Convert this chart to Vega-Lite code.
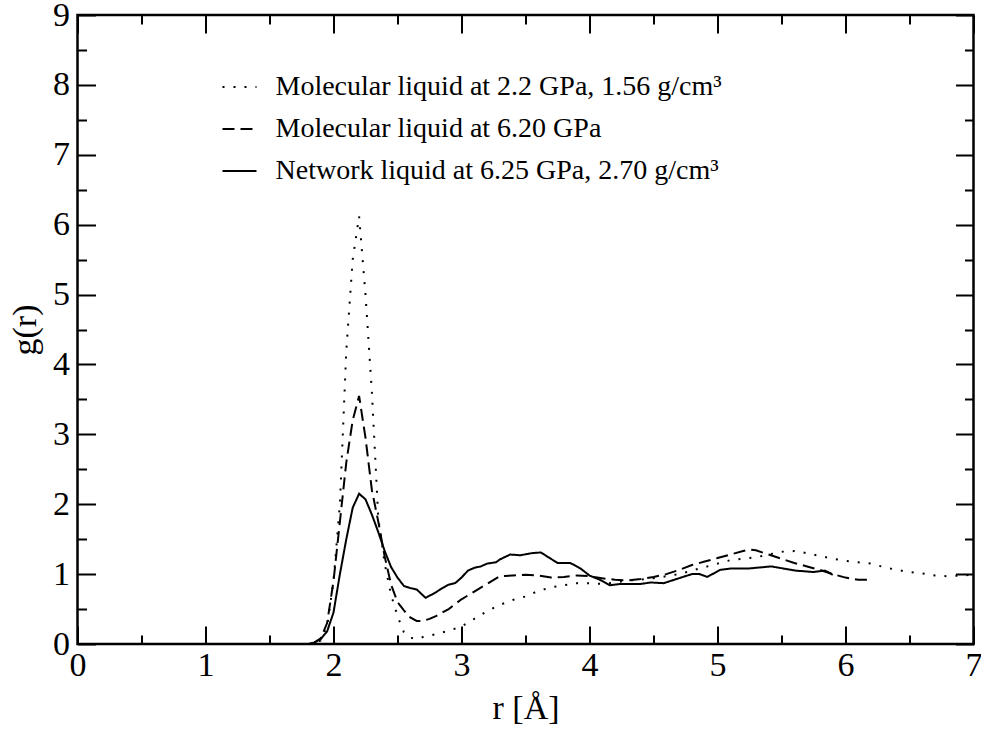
{
  "$schema": "https://vega.github.io/schema/vega-lite/v6.json",
  "width": 896,
  "height": 629,
  "autosize": {"type": "none"},
  "padding": {"left": 77.5, "top": 15, "right": 7.5, "bottom": 87},
  "background": "white",
  "config": {
    "view": {"stroke": "black", "strokeWidth": 2.5},
    "font": "Liberation Serif"
  },
  "datasets": {
    "curves": [
      {"s": "Molecular liquid at 2.2 GPa, 1.56 g/cm³", "r": 0, "g": 0},
      {"s": "Molecular liquid at 2.2 GPa, 1.56 g/cm³", "r": 1.8, "g": 0},
      {"s": "Molecular liquid at 2.2 GPa, 1.56 g/cm³", "r": 1.85, "g": 0.01},
      {"s": "Molecular liquid at 2.2 GPa, 1.56 g/cm³", "r": 1.9, "g": 0.05},
      {"s": "Molecular liquid at 2.2 GPa, 1.56 g/cm³", "r": 1.95, "g": 0.25},
      {"s": "Molecular liquid at 2.2 GPa, 1.56 g/cm³", "r": 2.0, "g": 0.9},
      {"s": "Molecular liquid at 2.2 GPa, 1.56 g/cm³", "r": 2.05, "g": 2.0},
      {"s": "Molecular liquid at 2.2 GPa, 1.56 g/cm³", "r": 2.1, "g": 4.2},
      {"s": "Molecular liquid at 2.2 GPa, 1.56 g/cm³", "r": 2.15, "g": 5.5},
      {"s": "Molecular liquid at 2.2 GPa, 1.56 g/cm³", "r": 2.2, "g": 6.12},
      {"s": "Molecular liquid at 2.2 GPa, 1.56 g/cm³", "r": 2.25, "g": 5.0},
      {"s": "Molecular liquid at 2.2 GPa, 1.56 g/cm³", "r": 2.3, "g": 3.6},
      {"s": "Molecular liquid at 2.2 GPa, 1.56 g/cm³", "r": 2.35, "g": 1.8},
      {"s": "Molecular liquid at 2.2 GPa, 1.56 g/cm³", "r": 2.4, "g": 1.15},
      {"s": "Molecular liquid at 2.2 GPa, 1.56 g/cm³", "r": 2.45, "g": 0.7},
      {"s": "Molecular liquid at 2.2 GPa, 1.56 g/cm³", "r": 2.5, "g": 0.4},
      {"s": "Molecular liquid at 2.2 GPa, 1.56 g/cm³", "r": 2.55, "g": 0.17},
      {"s": "Molecular liquid at 2.2 GPa, 1.56 g/cm³", "r": 2.6, "g": 0.09},
      {"s": "Molecular liquid at 2.2 GPa, 1.56 g/cm³", "r": 2.65, "g": 0.07},
      {"s": "Molecular liquid at 2.2 GPa, 1.56 g/cm³", "r": 2.7, "g": 0.1},
      {"s": "Molecular liquid at 2.2 GPa, 1.56 g/cm³", "r": 2.8, "g": 0.14},
      {"s": "Molecular liquid at 2.2 GPa, 1.56 g/cm³", "r": 2.9, "g": 0.19},
      {"s": "Molecular liquid at 2.2 GPa, 1.56 g/cm³", "r": 3.0, "g": 0.25},
      {"s": "Molecular liquid at 2.2 GPa, 1.56 g/cm³", "r": 3.1, "g": 0.36},
      {"s": "Molecular liquid at 2.2 GPa, 1.56 g/cm³", "r": 3.2, "g": 0.47},
      {"s": "Molecular liquid at 2.2 GPa, 1.56 g/cm³", "r": 3.3, "g": 0.56},
      {"s": "Molecular liquid at 2.2 GPa, 1.56 g/cm³", "r": 3.4, "g": 0.63},
      {"s": "Molecular liquid at 2.2 GPa, 1.56 g/cm³", "r": 3.5, "g": 0.68},
      {"s": "Molecular liquid at 2.2 GPa, 1.56 g/cm³", "r": 3.6, "g": 0.76},
      {"s": "Molecular liquid at 2.2 GPa, 1.56 g/cm³", "r": 3.7, "g": 0.81},
      {"s": "Molecular liquid at 2.2 GPa, 1.56 g/cm³", "r": 3.8, "g": 0.84},
      {"s": "Molecular liquid at 2.2 GPa, 1.56 g/cm³", "r": 3.9, "g": 0.87},
      {"s": "Molecular liquid at 2.2 GPa, 1.56 g/cm³", "r": 4.0, "g": 0.87},
      {"s": "Molecular liquid at 2.2 GPa, 1.56 g/cm³", "r": 4.1, "g": 0.86},
      {"s": "Molecular liquid at 2.2 GPa, 1.56 g/cm³", "r": 4.2, "g": 0.88},
      {"s": "Molecular liquid at 2.2 GPa, 1.56 g/cm³", "r": 4.3, "g": 0.91},
      {"s": "Molecular liquid at 2.2 GPa, 1.56 g/cm³", "r": 4.4, "g": 0.92},
      {"s": "Molecular liquid at 2.2 GPa, 1.56 g/cm³", "r": 4.5, "g": 0.94},
      {"s": "Molecular liquid at 2.2 GPa, 1.56 g/cm³", "r": 4.6, "g": 0.97},
      {"s": "Molecular liquid at 2.2 GPa, 1.56 g/cm³", "r": 4.7, "g": 1.0},
      {"s": "Molecular liquid at 2.2 GPa, 1.56 g/cm³", "r": 4.8, "g": 1.05},
      {"s": "Molecular liquid at 2.2 GPa, 1.56 g/cm³", "r": 4.9, "g": 1.1},
      {"s": "Molecular liquid at 2.2 GPa, 1.56 g/cm³", "r": 5.0, "g": 1.15},
      {"s": "Molecular liquid at 2.2 GPa, 1.56 g/cm³", "r": 5.1, "g": 1.2},
      {"s": "Molecular liquid at 2.2 GPa, 1.56 g/cm³", "r": 5.2, "g": 1.22},
      {"s": "Molecular liquid at 2.2 GPa, 1.56 g/cm³", "r": 5.3, "g": 1.24},
      {"s": "Molecular liquid at 2.2 GPa, 1.56 g/cm³", "r": 5.4, "g": 1.28},
      {"s": "Molecular liquid at 2.2 GPa, 1.56 g/cm³", "r": 5.5, "g": 1.32},
      {"s": "Molecular liquid at 2.2 GPa, 1.56 g/cm³", "r": 5.6, "g": 1.33},
      {"s": "Molecular liquid at 2.2 GPa, 1.56 g/cm³", "r": 5.7, "g": 1.3},
      {"s": "Molecular liquid at 2.2 GPa, 1.56 g/cm³", "r": 5.8, "g": 1.26},
      {"s": "Molecular liquid at 2.2 GPa, 1.56 g/cm³", "r": 5.9, "g": 1.22},
      {"s": "Molecular liquid at 2.2 GPa, 1.56 g/cm³", "r": 6.0, "g": 1.19},
      {"s": "Molecular liquid at 2.2 GPa, 1.56 g/cm³", "r": 6.1, "g": 1.17},
      {"s": "Molecular liquid at 2.2 GPa, 1.56 g/cm³", "r": 6.2, "g": 1.15},
      {"s": "Molecular liquid at 2.2 GPa, 1.56 g/cm³", "r": 6.3, "g": 1.1},
      {"s": "Molecular liquid at 2.2 GPa, 1.56 g/cm³", "r": 6.4, "g": 1.06},
      {"s": "Molecular liquid at 2.2 GPa, 1.56 g/cm³", "r": 6.5, "g": 1.03},
      {"s": "Molecular liquid at 2.2 GPa, 1.56 g/cm³", "r": 6.6, "g": 1.01},
      {"s": "Molecular liquid at 2.2 GPa, 1.56 g/cm³", "r": 6.7, "g": 0.98},
      {"s": "Molecular liquid at 2.2 GPa, 1.56 g/cm³", "r": 6.8, "g": 0.97},
      {"s": "Molecular liquid at 2.2 GPa, 1.56 g/cm³", "r": 6.9, "g": 0.98},
      {"s": "Molecular liquid at 2.2 GPa, 1.56 g/cm³", "r": 7.0, "g": 0.99},

      {"s": "Molecular liquid at 6.20 GPa", "r": 0, "g": 0},
      {"s": "Molecular liquid at 6.20 GPa", "r": 1.8, "g": 0},
      {"s": "Molecular liquid at 6.20 GPa", "r": 1.85, "g": 0.02},
      {"s": "Molecular liquid at 6.20 GPa", "r": 1.9, "g": 0.08},
      {"s": "Molecular liquid at 6.20 GPa", "r": 1.95, "g": 0.3},
      {"s": "Molecular liquid at 6.20 GPa", "r": 2.0, "g": 0.9},
      {"s": "Molecular liquid at 6.20 GPa", "r": 2.05, "g": 1.75},
      {"s": "Molecular liquid at 6.20 GPa", "r": 2.1, "g": 2.6},
      {"s": "Molecular liquid at 6.20 GPa", "r": 2.15, "g": 3.2},
      {"s": "Molecular liquid at 6.20 GPa", "r": 2.2, "g": 3.55},
      {"s": "Molecular liquid at 6.20 GPa", "r": 2.25, "g": 2.95},
      {"s": "Molecular liquid at 6.20 GPa", "r": 2.3, "g": 2.2},
      {"s": "Molecular liquid at 6.20 GPa", "r": 2.35, "g": 1.75},
      {"s": "Molecular liquid at 6.20 GPa", "r": 2.4, "g": 1.25},
      {"s": "Molecular liquid at 6.20 GPa", "r": 2.45, "g": 0.85},
      {"s": "Molecular liquid at 6.20 GPa", "r": 2.5, "g": 0.6},
      {"s": "Molecular liquid at 6.20 GPa", "r": 2.55, "g": 0.48},
      {"s": "Molecular liquid at 6.20 GPa", "r": 2.6, "g": 0.38},
      {"s": "Molecular liquid at 6.20 GPa", "r": 2.65, "g": 0.33},
      {"s": "Molecular liquid at 6.20 GPa", "r": 2.7, "g": 0.33},
      {"s": "Molecular liquid at 6.20 GPa", "r": 2.75, "g": 0.36},
      {"s": "Molecular liquid at 6.20 GPa", "r": 2.8, "g": 0.4},
      {"s": "Molecular liquid at 6.20 GPa", "r": 2.9, "g": 0.5},
      {"s": "Molecular liquid at 6.20 GPa", "r": 3.0, "g": 0.64},
      {"s": "Molecular liquid at 6.20 GPa", "r": 3.1, "g": 0.75},
      {"s": "Molecular liquid at 6.20 GPa", "r": 3.2, "g": 0.86},
      {"s": "Molecular liquid at 6.20 GPa", "r": 3.3, "g": 0.97},
      {"s": "Molecular liquid at 6.20 GPa", "r": 3.4, "g": 0.98},
      {"s": "Molecular liquid at 6.20 GPa", "r": 3.5, "g": 0.99},
      {"s": "Molecular liquid at 6.20 GPa", "r": 3.6, "g": 0.98},
      {"s": "Molecular liquid at 6.20 GPa", "r": 3.7, "g": 0.95},
      {"s": "Molecular liquid at 6.20 GPa", "r": 3.8, "g": 0.96},
      {"s": "Molecular liquid at 6.20 GPa", "r": 3.9, "g": 0.98},
      {"s": "Molecular liquid at 6.20 GPa", "r": 4.0, "g": 0.97},
      {"s": "Molecular liquid at 6.20 GPa", "r": 4.1, "g": 0.94},
      {"s": "Molecular liquid at 6.20 GPa", "r": 4.2, "g": 0.92},
      {"s": "Molecular liquid at 6.20 GPa", "r": 4.3, "g": 0.91},
      {"s": "Molecular liquid at 6.20 GPa", "r": 4.4, "g": 0.93},
      {"s": "Molecular liquid at 6.20 GPa", "r": 4.5, "g": 0.96},
      {"s": "Molecular liquid at 6.20 GPa", "r": 4.6, "g": 1.0},
      {"s": "Molecular liquid at 6.20 GPa", "r": 4.7, "g": 1.06},
      {"s": "Molecular liquid at 6.20 GPa", "r": 4.8, "g": 1.13},
      {"s": "Molecular liquid at 6.20 GPa", "r": 4.9, "g": 1.18},
      {"s": "Molecular liquid at 6.20 GPa", "r": 5.0, "g": 1.23},
      {"s": "Molecular liquid at 6.20 GPa", "r": 5.1, "g": 1.28},
      {"s": "Molecular liquid at 6.20 GPa", "r": 5.2, "g": 1.33},
      {"s": "Molecular liquid at 6.20 GPa", "r": 5.25, "g": 1.35},
      {"s": "Molecular liquid at 6.20 GPa", "r": 5.3, "g": 1.34},
      {"s": "Molecular liquid at 6.20 GPa", "r": 5.4, "g": 1.28},
      {"s": "Molecular liquid at 6.20 GPa", "r": 5.5, "g": 1.22},
      {"s": "Molecular liquid at 6.20 GPa", "r": 5.6, "g": 1.16},
      {"s": "Molecular liquid at 6.20 GPa", "r": 5.7, "g": 1.11},
      {"s": "Molecular liquid at 6.20 GPa", "r": 5.8, "g": 1.06},
      {"s": "Molecular liquid at 6.20 GPa", "r": 5.9, "g": 1.0},
      {"s": "Molecular liquid at 6.20 GPa", "r": 6.0, "g": 0.95},
      {"s": "Molecular liquid at 6.20 GPa", "r": 6.1, "g": 0.92},
      {"s": "Molecular liquid at 6.20 GPa", "r": 6.2, "g": 0.92},

      {"s": "Network liquid at 6.25 GPa, 2.70 g/cm³", "r": 0, "g": 0},
      {"s": "Network liquid at 6.25 GPa, 2.70 g/cm³", "r": 1.8, "g": 0},
      {"s": "Network liquid at 6.25 GPa, 2.70 g/cm³", "r": 1.85, "g": 0.02},
      {"s": "Network liquid at 6.25 GPa, 2.70 g/cm³", "r": 1.9, "g": 0.07},
      {"s": "Network liquid at 6.25 GPa, 2.70 g/cm³", "r": 1.95, "g": 0.18},
      {"s": "Network liquid at 6.25 GPa, 2.70 g/cm³", "r": 2.0, "g": 0.45},
      {"s": "Network liquid at 6.25 GPa, 2.70 g/cm³", "r": 2.05, "g": 1.0},
      {"s": "Network liquid at 6.25 GPa, 2.70 g/cm³", "r": 2.1, "g": 1.5},
      {"s": "Network liquid at 6.25 GPa, 2.70 g/cm³", "r": 2.15, "g": 1.95},
      {"s": "Network liquid at 6.25 GPa, 2.70 g/cm³", "r": 2.2, "g": 2.15},
      {"s": "Network liquid at 6.25 GPa, 2.70 g/cm³", "r": 2.25, "g": 2.07},
      {"s": "Network liquid at 6.25 GPa, 2.70 g/cm³", "r": 2.3, "g": 1.85},
      {"s": "Network liquid at 6.25 GPa, 2.70 g/cm³", "r": 2.35, "g": 1.6},
      {"s": "Network liquid at 6.25 GPa, 2.70 g/cm³", "r": 2.4, "g": 1.33},
      {"s": "Network liquid at 6.25 GPa, 2.70 g/cm³", "r": 2.45, "g": 1.1},
      {"s": "Network liquid at 6.25 GPa, 2.70 g/cm³", "r": 2.5, "g": 0.95},
      {"s": "Network liquid at 6.25 GPa, 2.70 g/cm³", "r": 2.55, "g": 0.83},
      {"s": "Network liquid at 6.25 GPa, 2.70 g/cm³", "r": 2.6, "g": 0.8},
      {"s": "Network liquid at 6.25 GPa, 2.70 g/cm³", "r": 2.65, "g": 0.78},
      {"s": "Network liquid at 6.25 GPa, 2.70 g/cm³", "r": 2.72, "g": 0.66},
      {"s": "Network liquid at 6.25 GPa, 2.70 g/cm³", "r": 2.8, "g": 0.74},
      {"s": "Network liquid at 6.25 GPa, 2.70 g/cm³", "r": 2.85, "g": 0.8},
      {"s": "Network liquid at 6.25 GPa, 2.70 g/cm³", "r": 2.9, "g": 0.85},
      {"s": "Network liquid at 6.25 GPa, 2.70 g/cm³", "r": 2.95, "g": 0.87},
      {"s": "Network liquid at 6.25 GPa, 2.70 g/cm³", "r": 3.0, "g": 0.95},
      {"s": "Network liquid at 6.25 GPa, 2.70 g/cm³", "r": 3.05, "g": 1.05},
      {"s": "Network liquid at 6.25 GPa, 2.70 g/cm³", "r": 3.1, "g": 1.09},
      {"s": "Network liquid at 6.25 GPa, 2.70 g/cm³", "r": 3.15, "g": 1.11},
      {"s": "Network liquid at 6.25 GPa, 2.70 g/cm³", "r": 3.2, "g": 1.15},
      {"s": "Network liquid at 6.25 GPa, 2.70 g/cm³", "r": 3.27, "g": 1.17},
      {"s": "Network liquid at 6.25 GPa, 2.70 g/cm³", "r": 3.3, "g": 1.21},
      {"s": "Network liquid at 6.25 GPa, 2.70 g/cm³", "r": 3.38, "g": 1.28},
      {"s": "Network liquid at 6.25 GPa, 2.70 g/cm³", "r": 3.46, "g": 1.27},
      {"s": "Network liquid at 6.25 GPa, 2.70 g/cm³", "r": 3.55, "g": 1.3},
      {"s": "Network liquid at 6.25 GPa, 2.70 g/cm³", "r": 3.62, "g": 1.31},
      {"s": "Network liquid at 6.25 GPa, 2.70 g/cm³", "r": 3.68, "g": 1.24},
      {"s": "Network liquid at 6.25 GPa, 2.70 g/cm³", "r": 3.75, "g": 1.16},
      {"s": "Network liquid at 6.25 GPa, 2.70 g/cm³", "r": 3.85, "g": 1.16},
      {"s": "Network liquid at 6.25 GPa, 2.70 g/cm³", "r": 3.93, "g": 1.08},
      {"s": "Network liquid at 6.25 GPa, 2.70 g/cm³", "r": 4.0, "g": 0.98},
      {"s": "Network liquid at 6.25 GPa, 2.70 g/cm³", "r": 4.08, "g": 0.92},
      {"s": "Network liquid at 6.25 GPa, 2.70 g/cm³", "r": 4.16, "g": 0.84},
      {"s": "Network liquid at 6.25 GPa, 2.70 g/cm³", "r": 4.24, "g": 0.86},
      {"s": "Network liquid at 6.25 GPa, 2.70 g/cm³", "r": 4.32, "g": 0.86},
      {"s": "Network liquid at 6.25 GPa, 2.70 g/cm³", "r": 4.4, "g": 0.86},
      {"s": "Network liquid at 6.25 GPa, 2.70 g/cm³", "r": 4.48, "g": 0.88},
      {"s": "Network liquid at 6.25 GPa, 2.70 g/cm³", "r": 4.58, "g": 0.87},
      {"s": "Network liquid at 6.25 GPa, 2.70 g/cm³", "r": 4.68, "g": 0.93},
      {"s": "Network liquid at 6.25 GPa, 2.70 g/cm³", "r": 4.8, "g": 1.0},
      {"s": "Network liquid at 6.25 GPa, 2.70 g/cm³", "r": 4.86, "g": 1.0},
      {"s": "Network liquid at 6.25 GPa, 2.70 g/cm³", "r": 4.92, "g": 0.96},
      {"s": "Network liquid at 6.25 GPa, 2.70 g/cm³", "r": 5.02, "g": 1.06},
      {"s": "Network liquid at 6.25 GPa, 2.70 g/cm³", "r": 5.1, "g": 1.08},
      {"s": "Network liquid at 6.25 GPa, 2.70 g/cm³", "r": 5.24, "g": 1.08},
      {"s": "Network liquid at 6.25 GPa, 2.70 g/cm³", "r": 5.42, "g": 1.11},
      {"s": "Network liquid at 6.25 GPa, 2.70 g/cm³", "r": 5.61, "g": 1.05},
      {"s": "Network liquid at 6.25 GPa, 2.70 g/cm³", "r": 5.75, "g": 1.03},
      {"s": "Network liquid at 6.25 GPa, 2.70 g/cm³", "r": 5.84, "g": 1.05},
      {"s": "Network liquid at 6.25 GPa, 2.70 g/cm³", "r": 5.9, "g": 0.99}
    ]
  },
  "data": {"name": "curves"},
  "layer": [
    {
      "mark": {"type": "line", "color": "black", "strokeWidth": 2, "strokeCap": "butt", "clip": true},
      "encoding": {
        "x": {
          "field": "r", "type": "quantitative",
          "scale": {"domain": [0, 7], "nice": false, "zero": false},
          "axis": {
            "orient": "bottom",
            "values": [0, 0.5, 1, 1.5, 2, 2.5, 3, 3.5, 4, 4.5, 5, 5.5, 6, 6.5, 7],
            "domain": false, "grid": false,
            "title": "r [Å]",
            "titleFont": "Liberation Serif", "titleFontSize": 34, "titleFontWeight": "normal", "titleColor": "black", "titlePadding": 9,
            "labelFont": "Liberation Serif", "labelFontSize": 34, "labelColor": "black",
            "labelExpr": "datum.value % 1 === 0 ? format(datum.value, 'd') : ''",
            "labelFlush": false, "labelOverlap": false, "labelBound": false,
            "tickColor": "black", "tickWidth": 2, "tickSize": -18,
            "tickDash": {"condition": {"test": "datum.value % 1 !== 0", "value": [9, 40]}, "value": [20, 0]},
            "labelPadding": 22
          }
        },
        "y": {
          "field": "g", "type": "quantitative",
          "scale": {"domain": [0, 9], "nice": false, "zero": false},
          "axis": {
            "orient": "left",
            "values": [0, 0.5, 1, 1.5, 2, 2.5, 3, 3.5, 4, 4.5, 5, 5.5, 6, 6.5, 7, 7.5, 8, 8.5, 9],
            "domain": false, "grid": false,
            "title": "g(r)",
            "titleFont": "Liberation Serif", "titleFontSize": 34, "titleFontWeight": "normal", "titleColor": "black", "titlePadding": 10,
            "labelFont": "Liberation Serif", "labelFontSize": 34, "labelColor": "black",
            "labelExpr": "datum.value % 1 === 0 ? format(datum.value, 'd') : ''",
            "labelFlush": false, "labelOverlap": false, "labelBound": false,
            "tickColor": "black", "tickWidth": 2, "tickSize": -18,
            "tickDash": {"condition": {"test": "datum.value % 1 !== 0", "value": [9, 40]}, "value": [20, 0]},
            "labelPadding": 26
          }
        },
        "strokeDash": {
          "field": "s", "type": "nominal",
          "scale": {
            "domain": ["Molecular liquid at 2.2 GPa, 1.56 g/cm³", "Molecular liquid at 6.20 GPa", "Network liquid at 6.25 GPa, 2.70 g/cm³"],
            "range": [[2, 9], [12, 6], [1, 0]]
          },
          "legend": {
            "orient": "none", "legendX": 144, "legendY": 54,
            "title": null, "padding": 0,
            "symbolType": "stroke", "symbolSize": 1156, "symbolStrokeWidth": 2, "symbolStrokeColor": "black",
            "labelFont": "Liberation Serif", "labelFontSize": 28, "labelColor": "black",
            "labelOffset": 18, "rowPadding": 10, "labelLimit": 0
          }
        }
      }
    },
    {
      "mark": {"type": "point", "opacity": 0},
      "encoding": {
        "x": {
          "field": "r", "type": "quantitative",
          "axis": {
            "orient": "top",
            "values": [0, 0.5, 1, 1.5, 2, 2.5, 3, 3.5, 4, 4.5, 5, 5.5, 6, 6.5, 7],
            "domain": false, "grid": false, "labels": false, "title": null,
            "tickColor": "black", "tickWidth": 2, "tickSize": -18,
            "tickDash": {"condition": {"test": "datum.value % 1 !== 0", "value": [9, 40]}, "value": [20, 0]}
          }
        },
        "y": {
          "field": "g", "type": "quantitative",
          "axis": {
            "orient": "right",
            "values": [0, 0.5, 1, 1.5, 2, 2.5, 3, 3.5, 4, 4.5, 5, 5.5, 6, 6.5, 7, 7.5, 8, 8.5, 9],
            "domain": false, "grid": false, "labels": false, "title": null,
            "tickColor": "black", "tickWidth": 2, "tickSize": -18,
            "tickDash": {"condition": {"test": "datum.value % 1 !== 0", "value": [9, 40]}, "value": [20, 0]}
          }
        }
      }
    }
  ],
  "resolve": {"axis": {"x": "independent", "y": "independent"}}
}
